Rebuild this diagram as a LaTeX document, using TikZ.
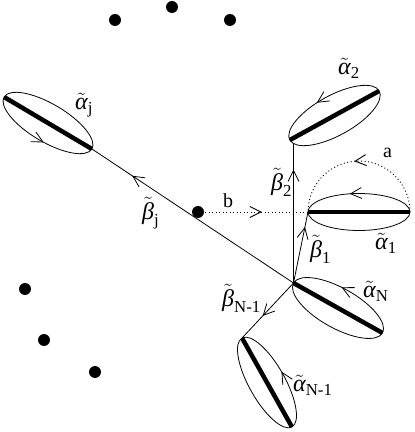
\documentclass[tikz,border=0pt]{standalone}
\usepackage{fontspec}
\usepackage{amsmath}
\setmainfont{Liberation Serif}
\usetikzlibrary{shapes.geometric,arrows.meta,decorations.markings}
\newcommand\lga{\text{\itshape α}}
\newcommand\lgb{\text{\itshape β}}
\tikzset{
  conn/.style={line width=0.8pt},
  ell/.style={draw, ellipse, line width=0.8pt, inner sep=0pt, outer sep=0pt, minimum width=102pt},
  bar/.style={line width=4.5pt},
  dotn/.style={circle, fill, inner sep=0pt, minimum size=12pt},
  dotl/.style={dash pattern=on 1pt off 2.5pt, line width=0.9pt},
  midarrow/.style={postaction={decorate, decoration={markings, mark=at position #1 with {\arrow{Straight Barb[length=11pt,width=11pt]}}}}},
  lab/.style={anchor=base west, inner sep=0pt, font=\fontsize{24}{26}\selectfont},
  labs/.style={anchor=base west, inner sep=0pt, font=\fontsize{20}{22}\selectfont},
}
\begin{document}
\begin{tikzpicture}[x=1pt,y=1pt]
\useasboundingbox (0,0) rectangle (415,432);
% dots
\node[dotn] (d1) at (115,412) {};
\node[dotn] (d2) at (172,425) {};
\node[dotn] (d3) at (230,412) {};
\node[dotn] (d4) at (25,143) {};
\node[dotn] (d5) at (44,92) {};
\node[dotn] (d6) at (95,60) {};
\node[dotn] (db) at (198,220) {};
% hub
\coordinate (P) at (293.5,149);
\coordinate (b2end) at (293.5,289);
% ellipses
\node[ell, minimum height=38pt, rotate=-30.6, midarrow=0.777] (aj) at (48,309) {};
\node[ell, minimum height=40pt, rotate=28.8, midarrow=0.29] (a2) at (334.5,316.5) {};
\node[ell, minimum height=37pt, midarrow=0.29] (a1) at (359,220) {};
\node[ell, minimum height=40pt, rotate=-29.3, midarrow=0.28] (aN) at (338,124) {};
\node[ell, minimum height=36pt, rotate=-60.7, midarrow=0.26] (aN1) at (267,49.5) {};
% thick bars
\draw[bar] (aj.west) -- (aj.east);
\draw[bar] (a2.west) -- (a2.east);
\draw[bar] (a1.west) -- (a1.east);
\draw[bar] (aN.west) -- (aN.east);
\draw[bar] (aN1.west) -- (aN1.east);
% connectors
\draw[conn, midarrow=0.8] (P) -- (aj.east);
\draw[conn, midarrow=0.81] (P) -- (b2end);
\draw[conn, midarrow=0.79] (P) -- (a1.west);
\draw[conn, midarrow=0.6] (P) -- (aN1.west);
\draw[dotl, midarrow=0.58] (db.center) -- (a1.west);
\draw[dotl, midarrow=0.53] (a1.east) arc[start angle=0, end angle=180, radius=51];
% labels
\node[lab] (laj) at (75,322) {$\tilde{\lga}_{\text{j}}$};
\node[lab] (la2) at (338,357) {$\tilde{\lga}_{\text{2}}$};
\node[lab] (la1) at (375,182) {$\tilde{\lga}_{\text{1}}$};
\node[lab] (laN) at (363,134) {$\tilde{\lga}_{\text{N}}$};
\node[lab] (laN1) at (293,40) {$\tilde{\lga}_{\text{N-1}}$};
\node[lab] (lbj) at (142,212) {$\tilde{\lgb}_{\text{j}}$};
\node[lab] (lb2) at (271,241) {$\tilde{\lgb}_{\text{2}}$};
\node[lab] (lb1) at (310,174) {$\tilde{\lgb}_{\text{1}}$};
\node[lab] (lbN1) at (222,125) {$\tilde{\lgb}_{\text{N-1}}$};
\node[labs] (la) at (383,274) {a};
\node[labs] (lb) at (223,224) {b};
\end{tikzpicture}
\end{document}
